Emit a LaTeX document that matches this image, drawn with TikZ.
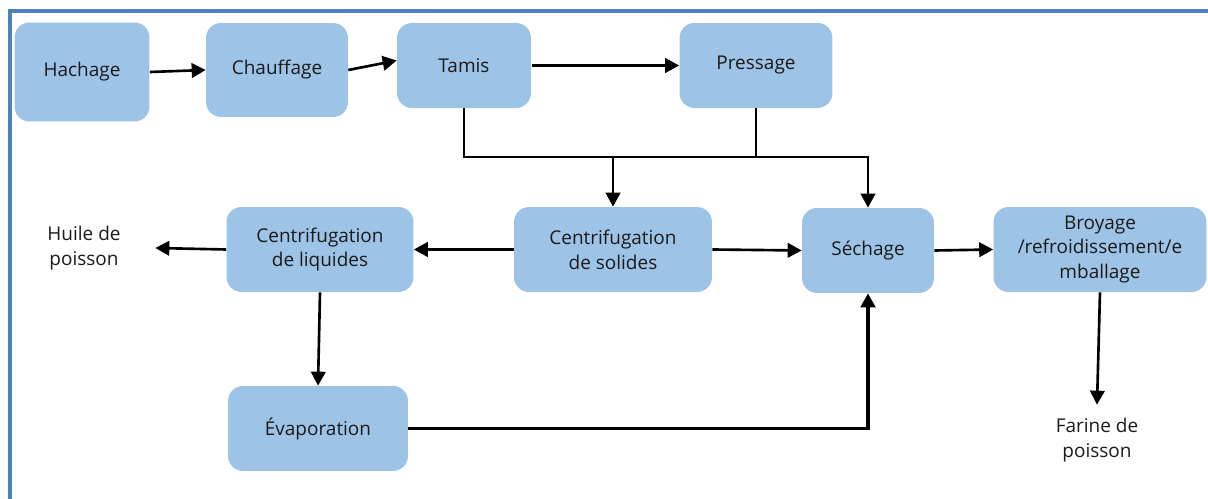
\documentclass[tikz,border=0pt]{standalone}
\usepackage{fontspec}
\setmainfont{Open Sans}
\usepackage{tikz}
\usetikzlibrary{arrows.meta,positioning}
\definecolor{boxblue}{HTML}{9DC3E6}
\definecolor{framebl}{HTML}{4F81BD}
\definecolor{ink}{HTML}{1A1A1A}
\tikzset{
  procbox/.style = {fill=boxblue, rounded corners=3mm, align=center, inner sep=1pt,
                    text=ink, font=\fontsize{10.8}{14.2}\selectfont},
  outtext/.style = {align=center, inner sep=0pt, text=ink,
                    font=\fontsize{10.8}{14.2}\selectfont},
  wire/.style    = {line width=1.5pt},
  vec/.style     = {-{Triangle[length=2.8mm,width=2.9mm]}, line width=1.5pt},
  bigvec/.style  = {-{Triangle[length=2.8mm,width=2.9mm]}, line width=2.2pt},
}

\begin{document}
\begin{tikzpicture}[x=0.02cm,y=-0.02cm]
  \useasboundingbox (0,0) rectangle (1208,499);
  \draw[framebl,line width=0.7mm] (10,499) -- (10,11) -- (1208,11);

  % top row
  \node[procbox,minimum width=27mm,minimum height=19.8mm] (hach) at (82,72) {Hachage};
  \node[procbox,minimum width=28.4mm,minimum height=18.8mm] (chauf) at (277,70) {Chauffage};
  \node[procbox,minimum width=26.8mm,minimum height=17mm] (tamis) at (464,65.5) {Tamis};
  \node[procbox,minimum width=30.6mm,minimum height=17mm] (press) at (756,65.5) {Pressage};

  % middle row
  \node[procbox,minimum width=37.4mm,minimum height=17mm] (cliq) at (320,249.5) {Centrifugation\\de liquides};
  \node[procbox,minimum width=39.6mm,minimum height=17mm] (csol) at (613,249.5) {Centrifugation\\de solides};
  \node[procbox,minimum width=26.4mm,minimum height=17mm] (sech) at (868,250.5) {Séchage};
  \node[procbox,minimum width=42.6mm,minimum height=17mm] (broy) at (1100,249.5) {Broyage\\/refroidissement/e\\mballage};
  \node[procbox,minimum width=36mm,minimum height=17mm] (evap) at (318,428.5) {Évaporation};

  % outputs
  \node[outtext,minimum width=28.4mm] (huile) at (84,248) {Huile de\\poisson};
  \node[outtext,minimum height=14mm] (farine) at (1097,440) {Farine de\\poisson};

  \coordinate (merge) at (613,157);

  \draw[vec] (hach.east) -- (chauf.west);
  \draw[vec] (chauf.east) -- ([yshift=0.1cm]tamis.west);
  \draw[vec] ([xshift=0.02cm]tamis.east) -- (press.west);
  \draw[wire] (tamis.south) |- (merge) -| (press.south);
  \draw[vec] (merge) -- (csol.north);
  \draw[vec] (merge) -| (sech.north);
  \draw[vec] (csol.west) -- (cliq.east);
  \draw[vec] (cliq.west) -- (huile.east);
  \draw[vec] (csol.east) -- (sech.west);
  \draw[vec] (cliq.south) -- (evap.north);
  \draw[bigvec] (evap.east) -| (sech.south);
  \draw[vec] (sech.east) -- (broy.west);
  \draw[vec] (broy.south) -- (farine.north);
\end{tikzpicture}
\end{document}
